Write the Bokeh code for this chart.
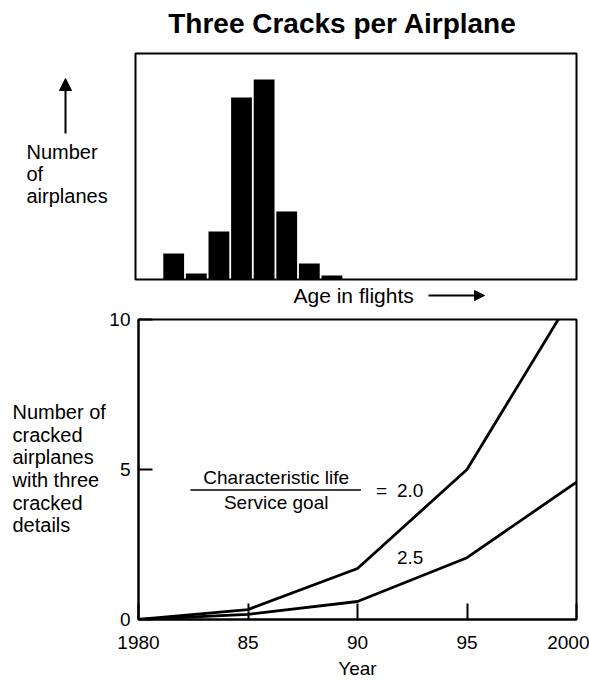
from bokeh.plotting import figure
from bokeh.layouts import column, row
from bokeh.models import Range1d, Label, Arrow, NormalHead, FixedTicker
from bokeh.embed import file_html
from bokeh.resources import INLINE

# ---------------- data ----------------
hist_bins = [0, 1, 2, 3, 4, 5, 6, 7]
hist_counts = [13, 3, 24, 91, 100, 34, 8, 2]

years = [1980, 1985, 1990, 1995, 2000]
cracked_ratio_2_0 = [0.0, 0.33, 1.7, 5.0, 11.0]
cracked_ratio_2_5 = [0.0, 0.17, 0.6, 2.06, 4.58]

x_ticks = [1980, 1985, 1990, 1995, 2000]
x_tick_labels = ["1980", "85", "90", "95", "2000"]
y_ticks = [0, 5, 10]

title_text = "Three Cracks per Airplane"
left_label_top = ["Number", "of", "airplanes"]
left_label_bottom = ["Number of", "cracked", "airplanes", "with three", "cracked", "details"]

FONT = "Liberation Sans"


def text_fig(w, h, y_bottom, y_top):
    """A bare figure used only to hold texts; its y range is given in page pixels
    (the frame of a figure in a row is aligned to its neighbour's frame)."""
    f = figure(width=w, height=h, output_backend="svg", toolbar_location=None,
               x_range=Range1d(0, w), y_range=Range1d(y_bottom, y_top), min_border=0,
               title=None)
    f.axis.visible = False
    f.grid.visible = False
    f.outline_line_color = None
    return f


def label(f, x, y, txt, size, align="left", style="normal"):
    f.add_layout(Label(x=x, y=y, text=txt, text_font=FONT, text_font_size=size,
                       text_align=align, text_baseline="middle",
                       text_font_style=style, text_color="black"))


# ---------------- row 0 : title ----------------
p_title = text_fig(589, 46, 46, 0)
label(p_title, 342, 23, title_text, "28px", align="center", style="bold")

# ---------------- row 1 : histogram ----------------
p_l1 = text_fig(132, 236, 279, 53)
p_l1.add_layout(Arrow(end=NormalHead(size=12, fill_color="black", line_color="black"),
                      x_start=65, y_start=133, x_end=65, y_end=78,
                      line_width=2, line_color="black"))
for txt, yy in zip(left_label_top, [151, 173, 195]):
    label(p_l1, 26, yy, txt, "20px")

p1 = figure(width=457, height=236, output_backend="svg", toolbar_location=None,
            x_range=Range1d(-1.69, 17.82), y_range=Range1d(0, 113),
            min_border_left=3, min_border_right=13, min_border_top=7,
            min_border_bottom=3, title=None)
p1.axis.visible = False
p1.grid.visible = False
p1.outline_line_color = "black"
p1.outline_line_width = 2
p1.outline_line_alpha = 1
p1.vbar(x=hist_bins, top=hist_counts, width=0.92, bottom=0,
        fill_color="black", line_color=None)

# ---------------- row 2 : "Age in flights" ----------------
p_age = text_fig(589, 28, 28, 0)
label(p_age, 293, 13, "Age in flights", "21px")
p_age.add_layout(Arrow(end=NormalHead(size=10, fill_color="black", line_color="black"),
                       x_start=428, y_start=13, x_end=484, y_end=13,
                       line_width=2, line_color="black"))

# ---------------- row 3 : cracked airplanes vs year ----------------
p_l2 = text_fig(106, 371, 620, 319)
for txt, yy in zip(left_label_bottom, [412, 435, 457, 480, 503, 525]):
    label(p_l2, 12, yy, txt, "20px")

p2 = figure(width=483, height=371, output_backend="svg", toolbar_location=None,
            x_range=Range1d(1980, 2000), y_range=Range1d(0, 10),
            min_border_left=31, min_border_right=13, min_border_top=9,
            min_border_bottom=61, title=None)
p2.grid.visible = False
p2.outline_line_color = "black"
p2.outline_line_width = 2
p2.outline_line_alpha = 1

p2.xaxis.ticker = FixedTicker(ticks=x_ticks)
p2.xaxis.major_label_overrides = {t: l for t, l in zip(x_ticks, x_tick_labels)}
p2.xaxis.minor_tick_line_color = None
p2.xaxis.major_tick_in = 16
p2.xaxis.major_tick_out = 0
p2.xaxis.major_tick_line_width = 2
p2.xaxis.axis_line_width = 2
p2.xaxis.major_label_standoff = 16
p2.xaxis.major_label_text_font = FONT
p2.xaxis.major_label_text_font_size = "19px"
p2.xaxis.major_label_text_color = "black"
p2.xaxis.axis_label = "Year"
p2.xaxis.axis_label_standoff = 6
p2.xaxis.axis_label_text_font = FONT
p2.xaxis.axis_label_text_font_size = "19px"
p2.xaxis.axis_label_text_font_style = "normal"
p2.xaxis.axis_label_text_color = "black"

p2.yaxis.ticker = FixedTicker(ticks=y_ticks)
p2.yaxis.minor_tick_line_color = None
p2.yaxis.major_tick_in = 14
p2.yaxis.major_tick_out = 0
p2.yaxis.major_tick_line_width = 2
p2.yaxis.axis_line_width = 2
p2.yaxis.major_label_standoff = 8
p2.yaxis.major_label_text_font = FONT
p2.yaxis.major_label_text_font_size = "19px"
p2.yaxis.major_label_text_color = "black"

p2.line(years, cracked_ratio_2_0, line_width=2.8, line_color="black")
p2.line(years, cracked_ratio_2_5, line_width=2.8, line_color="black")


# annotation positions inside the frame, converted from page pixels
def b_x(px):
    return 1980 + (px - 137) / 21.95


def b_y(py):
    return (620 - py) / 30.1


label(p2, b_x(275), b_y(478), "Characteristic life", "19px", align="center")
p2.segment(x0=[b_x(189)], y0=[b_y(490)], x1=[b_x(360)], y1=[b_y(490)],
           line_color="black", line_width=1.5)
label(p2, b_x(275), b_y(503), "Service goal", "19px", align="center")
label(p2, b_x(375), b_y(491), "=", "19px")
label(p2, b_x(396), b_y(491), "2.0", "19px")
label(p2, b_x(396), b_y(558), "2.5", "19px")

layout = column(p_title, row(p_l1, p1), p_age, row(p_l2, p2))
open("out.html", "w").write(file_html(layout, INLINE))
